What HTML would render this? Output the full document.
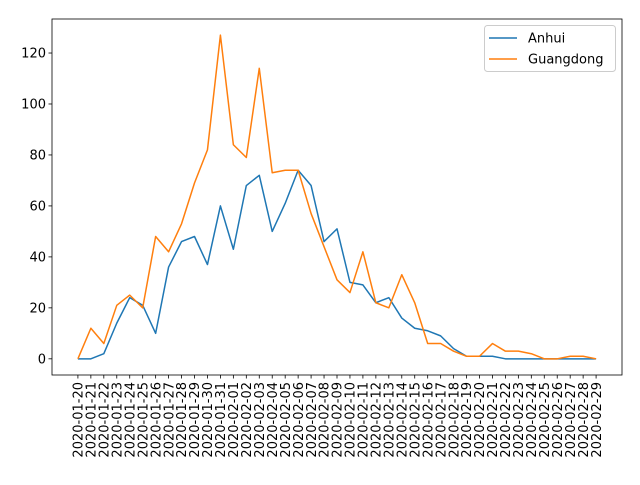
<!DOCTYPE html>
<html><head><meta charset="utf-8"><style>
body{margin:0;background:#fff;}
svg{font-family:"DejaVu Sans","Liberation Sans",sans-serif;}
</style></head><body>
<svg id="c" width="640" height="480"></svg>
<script>
const dates=["2020-01-20","2020-01-21","2020-01-22","2020-01-23","2020-01-24","2020-01-25","2020-01-26","2020-01-27","2020-01-28","2020-01-29","2020-01-30","2020-01-31","2020-02-01","2020-02-02","2020-02-03","2020-02-04","2020-02-05","2020-02-06","2020-02-07","2020-02-08","2020-02-09","2020-02-10","2020-02-11","2020-02-12","2020-02-13","2020-02-14","2020-02-15","2020-02-16","2020-02-17","2020-02-18","2020-02-19","2020-02-20","2020-02-21","2020-02-22","2020-02-23","2020-02-24","2020-02-25","2020-02-26","2020-02-27","2020-02-28","2020-02-29"];
const anhui=[0,0,2,14,24,21,10,36,46,48,37,60,43,68,72,50,61,74,68,46,51,30,29,22,24,16,12,11,9,4,1,1,1,0,0,0,0,0,0,0,0];
const guangdong=[0,12,6,21,25,20,48,42,53,69,82,127,84,79,114,73,74,74,57,44,31,26,42,22,20,33,22,6,6,3,1,1,6,3,3,2,0,0,1,1,0];
const yTicks=[0,20,40,60,80,100,120];
const NS="http://www.w3.org/2000/svg";
const svg=document.getElementById('c');
const L=52,R=622,T=19,B=375;
const n=dates.length;
const allV=anhui.concat(guangdong);
const vmax=Math.max(...allV),vmin=Math.min(...allV);
const ylo=vmin-(vmax-vmin)*0.05,yhi=vmax+(vmax-vmin)*0.05;
const xlo=-(n-1)*0.05,xhi=(n-1)*1.05;
const X=i=>L+(i-xlo)/(xhi-xlo)*(R-L);
const Y=v=>B-(v-ylo)/(yhi-ylo)*(B-T);
function el(t,a,p){const e=document.createElementNS(NS,t);for(const k in a)e.setAttribute(k,a[k]);(p||svg).appendChild(e);return e;}
const frame=el('rect',{x:L,y:T,width:R-L,height:B-T,fill:'none',stroke:'#000','stroke-width':0.8});


yTicks.forEach(v=>{
  const y=Y(v);
  const t=el('line',{x1:L-3.5,x2:L,y1:y,y2:y,stroke:'#000','stroke-width':0.8});
  
  
  const tx=el('text',{x:L-6,y:y+4.5,'text-anchor':'end','font-size':13,fill:'#000'});
  tx.textContent=v;
  
  
});
dates.forEach((d,i)=>{
  const x=X(i);
  const t=el('line',{x1:x,x2:x,y1:B,y2:B+3.5,stroke:'#000','stroke-width':0.8});
  
  
  const tx=el('text',{x:0,y:0,'text-anchor':'end','font-size':13,fill:'#000',transform:`translate(${x+4.7},${B+7}) rotate(-90)`});
  tx.textContent=d;
  
  
});
function series(vals,color,name){
  const p=el('polyline',{points:vals.map((v,i)=>X(i)+','+Y(v)).join(' '),fill:'none',stroke:color,'stroke-width':1.5,'stroke-linejoin':'round'});
  
  
}
series(anhui,'#1f77b4','anhui-line');
series(guangdong,'#ff7f0e','guangdong-line');
const lg=el('g',{});


el('rect',{x:484.5,y:25.5,width:131,height:46,rx:3,fill:'#fff',stroke:'#ccc','stroke-width':1},lg);
[['Anhui','#1f77b4',38],['Guangdong','#ff7f0e',59]].forEach(([nm,c,y])=>{
  const e=el('g',{},lg);
  
  
  el('line',{x1:489,x2:517,y1:y,y2:y,stroke:c,'stroke-width':1.5},e);
  const t=el('text',{x:528,y:y+4.5,'font-size':13,fill:'#000'},e);
  t.textContent=nm;
});
</script>
</body></html>
